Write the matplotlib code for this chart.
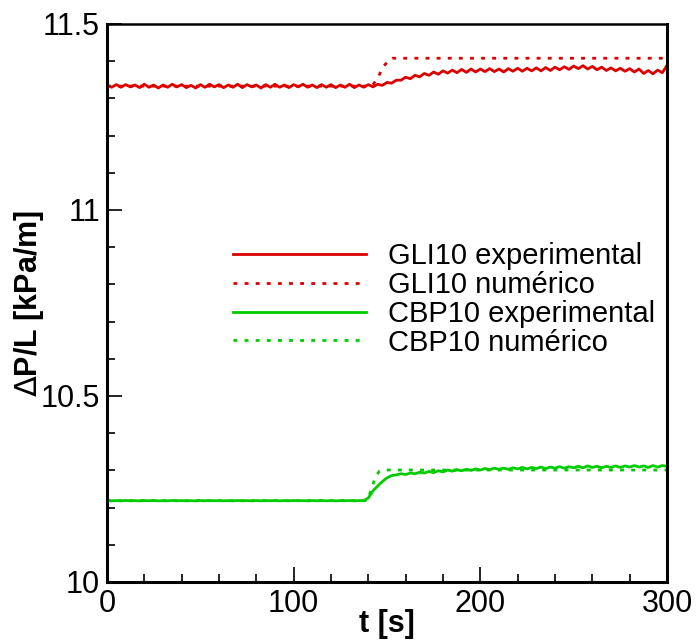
import numpy as np
import matplotlib
matplotlib.use("Agg")
import matplotlib.pyplot as plt
from matplotlib.ticker import MultipleLocator

plt.rcParams['font.family'] = ['Liberation Sans', 'DejaVu Sans']
plt.rcParams['mathtext.fontset'] = 'dejavusans'

# sampling times of the measured signals [s]
t_exp = np.linspace(0, 300, 121)

gli10_exp = [
    11.335, 11.330, 11.337, 11.330, 11.337, 11.331, 11.336, 11.329, 11.338, 11.330,
    11.336, 11.328, 11.336, 11.330, 11.338, 11.331, 11.337, 11.329, 11.335, 11.328,
    11.337, 11.330, 11.338, 11.331, 11.337, 11.329, 11.336, 11.330, 11.338, 11.329,
    11.337, 11.331, 11.336, 11.328, 11.337, 11.330, 11.338, 11.330, 11.336, 11.329,
    11.337, 11.331, 11.338, 11.330, 11.336, 11.329, 11.337, 11.330, 11.337, 11.329,
    11.336, 11.330, 11.338, 11.329, 11.336, 11.330, 11.337, 11.331,
    11.338, 11.335, 11.343, 11.341, 11.349, 11.349, 11.357, 11.353, 11.362, 11.358,
    11.367, 11.362, 11.371, 11.365, 11.374, 11.368, 11.376, 11.369, 11.378, 11.370,
    11.379, 11.371, 11.379, 11.372, 11.380, 11.372, 11.379, 11.371, 11.380, 11.373,
    11.381, 11.373, 11.381, 11.374, 11.382, 11.374, 11.383, 11.375, 11.384, 11.377,
    11.385, 11.378, 11.387, 11.380, 11.388, 11.379, 11.386, 11.377, 11.384, 11.375,
    11.382, 11.374, 11.381, 11.373, 11.380, 11.371, 11.379, 11.367, 11.375, 11.366,
    11.376, 11.369, 11.389,
]

cbp10_exp = [
    10.2190, 10.2182, 10.2188, 10.2183, 10.2191, 10.2184, 10.2187, 10.2181, 10.2189, 10.2185,
    10.2190, 10.2183, 10.2186, 10.2182, 10.2191, 10.2184, 10.2188, 10.2183, 10.2187, 10.2181,
    10.2189, 10.2184, 10.2190, 10.2185, 10.2188, 10.2182, 10.2187, 10.2183, 10.2190, 10.2184,
    10.2188, 10.2182, 10.2189, 10.2183, 10.2187, 10.2184, 10.2190, 10.2182, 10.2188, 10.2183,
    10.2189, 10.2185, 10.2187, 10.2182, 10.2190, 10.2184, 10.2188, 10.2183, 10.2189, 10.2182,
    10.2187, 10.2184, 10.2190, 10.2183, 10.2188, 10.2186,
    10.226, 10.245, 10.258, 10.270, 10.280, 10.286, 10.288, 10.291, 10.289, 10.293,
    10.291, 10.295, 10.293, 10.297, 10.294, 10.299, 10.296, 10.301, 10.298, 10.302,
    10.299, 10.303, 10.300, 10.304, 10.301, 10.305, 10.302, 10.306, 10.303, 10.306,
    10.303, 10.307, 10.304, 10.308, 10.304, 10.308, 10.305, 10.309, 10.305, 10.309,
    10.306, 10.310, 10.306, 10.310, 10.307, 10.311, 10.307, 10.312, 10.308, 10.311,
    10.307, 10.311, 10.308, 10.312, 10.308, 10.312, 10.309, 10.313, 10.309, 10.312,
    10.308, 10.313, 10.309, 10.313, 10.311,
]

# simulated responses
t_gli10_num = [0, 142, 145, 148, 151, 153, 300]
gli10_num = [11.333, 11.333, 11.355, 11.385, 11.403, 11.408, 11.408]
t_cbp10_num = [0, 139.5, 142, 144, 146, 148, 300]
cbp10_num = [10.2186, 10.2186, 10.255, 10.285, 10.298, 10.301, 10.301]

labels = ["GLI10 experimental", "GLI10 numérico",
          "CBP10 experimental", "CBP10 numérico"]
red = "#dd0000"
green = "#00cc00"
dots = (0, (1.4, 2.6))

fig = plt.figure(figsize=(6.97, 6.41), dpi=100)
ax = fig.add_axes([107 / 697, 59 / 641, 560 / 697, 558 / 641])

ax.plot(t_exp, gli10_exp, color=red, lw=2.0, label=labels[0])
ax.plot(t_gli10_num, gli10_num, color=red, lw=2.0, ls=dots, label=labels[1])
ax.plot(t_exp, cbp10_exp, color=green, lw=2.0, label=labels[2])
ax.plot(t_cbp10_num, cbp10_num, color=green, lw=2.0, ls=dots, label=labels[3])

ax.set_xlim(0, 300)
ax.set_ylim(10, 11.5)
ax.xaxis.set_major_locator(MultipleLocator(100))
ax.xaxis.set_minor_locator(MultipleLocator(20))
ax.yaxis.set_major_locator(MultipleLocator(0.5))
ax.yaxis.set_minor_locator(MultipleLocator(0.1))
ax.yaxis.set_major_formatter(plt.FuncFormatter(lambda v, p: f"{v:g}"))

ax.tick_params(which='both', direction='in', top=False, right=False,
               labelsize=22, width=1.2, color='black')
ax.tick_params(which='major', length=11)
ax.tick_params(which='minor', length=5.5)
ax.tick_params(axis='x', pad=5)
ax.tick_params(axis='y', pad=5)

for side in ['left', 'bottom', 'right']:
    ax.spines[side].set_linewidth(2.2)
ax.spines['top'].set_linewidth(1.8)

ax.set_xlabel("t [s]", fontsize=22, fontweight='bold')
ax.xaxis.set_label_coords(0.5, -0.048)
ax.set_ylabel(r"$\Delta$P/L [kPa/m]", fontsize=22, fontweight='bold', va='center')
ax.yaxis.set_label_coords((29 - 107) / 560, 0.5)

leg = ax.legend(loc='upper left', bbox_to_anchor=((233 - 107) / 560, (582 - 242) / 558),
                frameon=False, fontsize=21, handlelength=4.55, handletextpad=0.75,
                labelspacing=0.03, borderpad=0, borderaxespad=0)

fig.savefig("out.png", dpi=100)
